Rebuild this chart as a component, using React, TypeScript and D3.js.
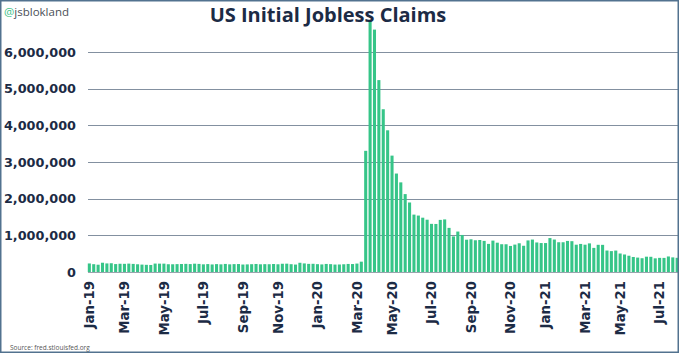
import React, { useEffect, useRef } from 'react';
import * as d3 from 'd3';

// weekly initial claims, seasonally adjusted (week ending Saturday)
const firstWeek = new Date(2019, 0, 5);

const claims2019 = [
  233000, 213000, 199000, 253000, 234000, 239000, 216000, 225000,
  223000, 229000, 221000, 211000, 202000, 196000, 192000, 230000,
  228000, 228000, 212000, 211000, 215000, 218000, 222000, 216000,
  227000, 221000, 209000, 216000, 206000, 215000, 209000, 220000,
  209000, 215000, 217000, 204000, 208000, 213000, 219000, 210000,
  214000, 212000, 218000, 211000, 225000, 227000, 213000, 203000,
  252000, 234000, 222000, 224000,
];

const claims2020 = [
  214000, 207000, 220000, 214000, 203000, 205000, 211000, 220000,
  217000, 230000, 282000, 3307000, 6867000, 6615000, 5237000, 4442000,
  3867000, 3176000, 2687000, 2446000, 2126000, 1897000, 1566000, 1540000,
  1482000, 1427000, 1314000, 1311000, 1422000, 1435000, 1204000, 971000,
  1104000, 1011000, 881000, 893000, 866000, 873000, 849000, 767000,
  857000, 800000, 758000, 757000, 711000, 748000, 784000, 716000,
  862000, 885000, 806000, 790000,
];

const claims2021 = [
  790000, 926000, 886000, 812000, 812000, 848000, 841000, 745000,
  766000, 745000, 781000, 658000, 742000, 741000, 586000, 570000,
  585000, 505000, 478000, 444000, 410000, 393000, 376000, 418000,
  415000, 373000, 386000, 385000, 424000, 399000, 387000,
];

const tickLabels = [
  'Jan-19', 'Mar-19', 'May-19', 'Jul-19', 'Sep-19', 'Nov-19',
  'Jan-20', 'Mar-20', 'May-20', 'Jul-20', 'Sep-20', 'Nov-20',
  'Jan-21', 'Mar-21', 'May-21', 'Jul-21',
];

const yTicks = [0, 1000000, 2000000, 3000000, 4000000, 5000000, 6000000];

const W = 679;
const H = 354;
const navy = '#1c2b45';
const green = '#36c588';

export default function App() {
  const svgRef = useRef<SVGSVGElement>(null);

  useEffect(() => {
    const values = [...claims2019, ...claims2020, ...claims2021];
    const data = values.map((v, i) => ({
      date: d3.timeDay.offset(firstWeek, i * 7),
      value: v,
    }));

    const svg = d3.select(svgRef.current);
    svg.selectAll('*').remove();

    const x = d3.scaleBand<number>()
      .domain(data.map((_, i) => i))
      .range([87.8, 678.7])
      .paddingInner(0.3)
      .paddingOuter(0);

    const y = d3.scaleLinear()
      .domain([0, 7000000])
      .range([272, 15.5]);

    const plotLeft = 88;
    const plotRight = 678;

    // gridlines
    svg.append('g')
      .selectAll('line')
      .data(yTicks.filter(d => d > 0))
      .enter().append('line')
      .attr('x1', plotLeft)
      .attr('x2', plotRight)
      .attr('y1', d => Math.round(y(d)) + 0.5)
      .attr('y2', d => Math.round(y(d)) + 0.5)
      .attr('stroke', '#8390a0')
      .attr('stroke-width', 1);

    // bars
    svg.append('g')
      .selectAll('rect')
      .data(data)
      .enter().append('rect')
      .attr('x', (_, i) => x(i) as number)
      .attr('width', x.bandwidth())
      .attr('y', d => y(d.value))
      .attr('height', d => y(0) - y(d.value))
      .attr('fill', green);

    // baseline
    svg.append('line')
      .attr('x1', plotLeft)
      .attr('x2', plotRight)
      .attr('y1', y(0) + 0.5)
      .attr('y2', y(0) + 0.5)
      .attr('stroke', '#9aa3ad')
      .attr('stroke-width', 1);

    // y labels
    svg.append('g')
      .selectAll('text')
      .data(yTicks)
      .enter().append('text')
      .attr('x', 76)
      .attr('y', d => y(d))
      .attr('dy', '0.36em')
      .attr('text-anchor', 'end')
      .style('font-family', '"DejaVu Sans", sans-serif')
      .style('font-weight', 'bold')
      .style('font-size', '12.8px')
      .style('fill', navy)
      .text(d => d3.format(',')(d));

    // x labels at the first week of every other month
    const tickIdx = tickLabels.map(lbl => {
      const t = d3.timeParse('%b-%y')(lbl) as Date;
      return data.findIndex(d => d.date >= t);
    });
    svg.append('g')
      .selectAll('text')
      .data(tickLabels)
      .enter().append('text')
      .attr('transform', (_, k) => `translate(${(x(tickIdx[k]) as number) + x.bandwidth() / 2},281) rotate(-90)`)
      .attr('dy', '0.36em')
      .attr('text-anchor', 'end')
      .style('font-family', '"DejaVu Sans", sans-serif')
      .style('font-weight', 'bold')
      .style('font-size', '13.3px')
      .style('fill', navy)
      .text(d => d);

    // title
    svg.append('text')
      .attr('x', 328)
      .attr('y', 21.5)
      .attr('text-anchor', 'middle')
      .style('font-family', '"Open Sans", sans-serif')
      .style('font-weight', 'bold')
      .style('font-size', '20px')
      .style('fill', navy)
      .text('US Initial Jobless Claims');

    // handle
    const handle = svg.append('text')
      .attr('x', 4)
      .attr('y', 15.5)
      .style('font-family', '"Open Sans", sans-serif')
      .style('font-size', '11.5px');
    handle.append('tspan').style('fill', '#3fbf8a').text('@');
    handle.append('tspan').style('fill', '#4a4f57').text('jsblokland');

    // source
    svg.append('text')
      .attr('x', 10)
      .attr('y', 349.5)
      .style('font-family', '"Open Sans", sans-serif')
      .style('font-size', '6.5px')
      .style('fill', '#555')
      .text('Source: fred.stlouisfed.org');

    // frame
    svg.append('rect')
      .attr('x', 0.75)
      .attr('y', 0.75)
      .attr('width', 677.5)
      .attr('height', 351.5)
      .attr('fill', 'none')
      .attr('stroke', '#52728f')
      .attr('stroke-width', 1.5);
  }, []);

  return (
    <svg
      ref={svgRef}
      width={W}
      height={H}
      style={{ position: 'absolute', left: 0, top: 0, background: '#fff' }}
    />
  );
}
